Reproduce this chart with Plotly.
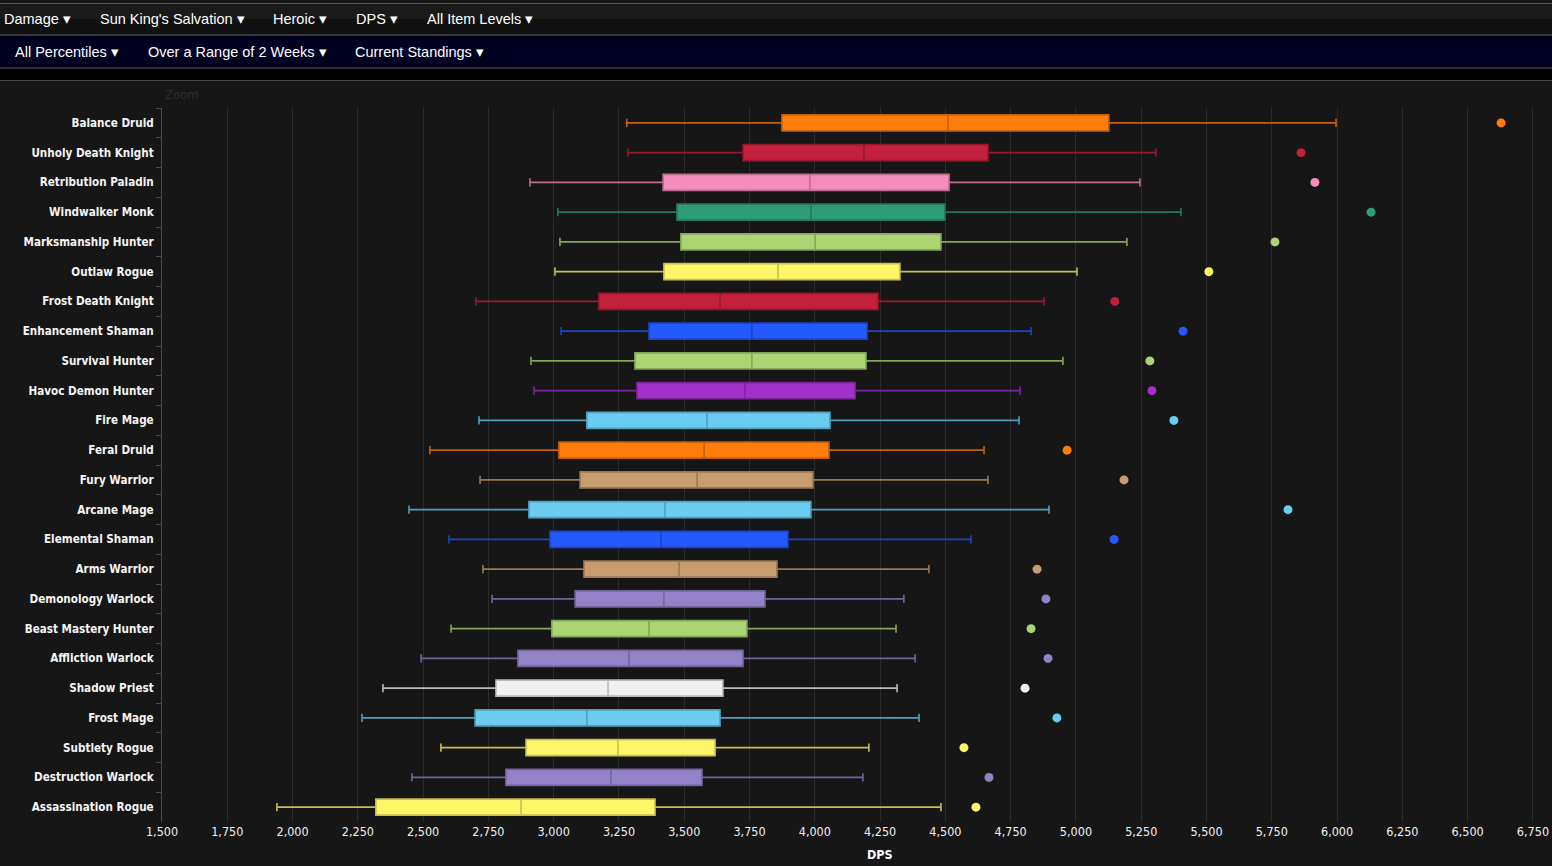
import plotly.graph_objects as go

# Specs, top to bottom
specs = [
    "Balance Druid", "Unholy Death Knight", "Retribution Paladin", "Windwalker Monk",
    "Marksmanship Hunter", "Outlaw Rogue", "Frost Death Knight", "Enhancement Shaman",
    "Survival Hunter", "Havoc Demon Hunter", "Fire Mage", "Feral Druid",
    "Fury Warrior", "Arcane Mage", "Elemental Shaman", "Arms Warrior",
    "Demonology Warlock", "Beast Mastery Hunter", "Affliction Warlock", "Shadow Priest",
    "Frost Mage", "Subtlety Rogue", "Destruction Warlock", "Assassination Rogue",
]

# DPS stats
low = [3280, 3284, 2909, 3016, 3024, 3005, 2702, 3028, 2913, 2925, 2714, 2526,
       2718, 2446, 2599, 2729, 2764, 2607, 2492, 2346, 2266, 2568, 2457, 1940]
q1 = [3874, 3725, 3419, 3472, 3487, 3422, 3173, 3365, 3311, 3319, 3127, 3020,
      3101, 2905, 2986, 3116, 3082, 2993, 2863, 2779, 2699, 2894, 2817, 2319]
median = [4510, 4188, 3981, 3985, 4001, 3859, 3637, 3759, 3759, 3733, 3587, 3576,
          3549, 3426, 3411, 3480, 3422, 3365, 3288, 3208, 3127, 3246, 3219, 2875]
q3 = [5126, 4663, 4514, 4498, 4483, 4326, 4242, 4200, 4196, 4154, 4058, 4054,
      3993, 3985, 3897, 3855, 3809, 3740, 3725, 3648, 3637, 3618, 3568, 3388]
high = [5996, 5306, 5245, 5402, 5195, 5004, 4878, 4828, 4950, 4786, 4782, 4648,
        4663, 4897, 4598, 4437, 4341, 4311, 4384, 4315, 4399, 4207, 4184, 4483]
top = [6628, 5862, 5915, 6130, 5762, 5509, 5149, 5410, 5283, 5291, 5375, 4966,
       5184, 5812, 5146, 4851, 4885, 4828, 4893, 4805, 4927, 4571, 4667, 4617]

colors = [
    "#ff7d0a", "#c41f3b", "#f58cba", "#2e9c78", "#abd473", "#fff569", "#c41f3b", "#2459ff",
    "#abd473", "#a330c9", "#69ccf0", "#ff7d0a", "#c79c6e", "#69ccf0", "#2459ff", "#c79c6e",
    "#9482c9", "#abd473", "#9482c9", "#f0f0f0", "#69ccf0", "#fff569", "#9482c9", "#fff569",
]

row1_menus = ["Damage", "Sun King's Salvation", "Heroic", "DPS", "All Item Levels"]
row1_x = [2, 98, 271, 354, 425]
row2_menus = ["All Percentiles", "Over a Range of 2 Weeks", "Current Standings"]
row2_x = [13, 146, 353]

W, H = 1552, 866
PLOT_L, PLOT_T, PLOT_B = 162, 108, 822
FONT = "DejaVu Sans Condensed"


def darken(hex_color, f):
    h = hex_color.lstrip("#")
    r, g, b = (int(h[i:i + 2], 16) for i in (0, 2, 4))
    return "rgb(%d,%d,%d)" % (r * f, g * f, b * f)


def px(x):
    return (x - PLOT_L) / (W - PLOT_L)


def py(y):
    return (PLOT_B - y) / (PLOT_B - PLOT_T)


fig = go.Figure()

for i, name in enumerate(specs):
    fig.add_trace(go.Box(
        y=[name],
        q1=[q1[i]], median=[median[i]], q3=[q3[i]],
        lowerfence=[low[i]], upperfence=[high[i]],
        orientation="h",
        width=0.54,
        whiskerwidth=0.5,
        fillcolor=colors[i],
        line=dict(color=darken(colors[i], 0.78), width=1.6),
        boxpoints=False,
        hoverinfo="x",
        showlegend=False,
    ))

# best parse per spec
fig.add_trace(go.Scatter(
    x=top, y=specs, mode="markers",
    marker=dict(color=colors, size=9),
    hoverinfo="x", showlegend=False,
))

# page header bars (decoration)
shapes = []
bars = [
    (0, 3, "#161616"),
    (3, 19, "#1a1a1a"),
    (19, 35, "#101010"),
    (35, 68, "#000020"),
    (68, 80, "#000000"),
]
for y0, y1, c in bars:
    shapes.append(dict(type="rect", xref="paper", yref="paper", x0=px(0), x1=px(W),
                       y0=py(y1), y1=py(y0), fillcolor=c, line=dict(width=0), layer="below"))
for yl, c in [(3.5, "#5a5a5a"), (35, "#666666"), (68, "#5a5a5a"), (80.5, "#444444")]:
    shapes.append(dict(type="line", xref="paper", yref="paper", x0=px(0), x1=px(W),
                       y0=py(yl), y1=py(yl), line=dict(color=c, width=1)))

annotations = []
for label, x in zip(row1_menus, row1_x):
    annotations.append(dict(text=label + " \u25be", x=px(x), y=py(19), xref="paper", yref="paper",
                            xanchor="left", yanchor="middle", showarrow=False,
                            font=dict(family="Liberation Sans, Arial", size=14.5, color="#ffffff")))
for label, x in zip(row2_menus, row2_x):
    annotations.append(dict(text=label + " \u25be", x=px(x), y=py(52), xref="paper", yref="paper",
                            xanchor="left", yanchor="middle", showarrow=False,
                            font=dict(family="Liberation Sans, Arial", size=14.5, color="#ffffff")))
annotations.append(dict(text="Zoom", x=px(163), y=py(94), xref="paper", yref="paper",
                        xanchor="left", yanchor="middle", showarrow=False,
                        font=dict(family=FONT, size=13, color="#2e2e2e")))
annotations.append(dict(text="<b>DPS</b>", x=px(880), y=py(854), xref="paper", yref="paper",
                        xanchor="center", yanchor="middle", showarrow=False,
                        font=dict(family=FONT, size=12.5, color="#ffffff")))

fig.update_layout(
    width=W, height=H,
    margin=dict(l=PLOT_L, r=0, t=PLOT_T, b=H - PLOT_B),
    paper_bgcolor="#161616",
    plot_bgcolor="#161616",
    boxmode="overlay",
    showlegend=False,
    shapes=shapes,
    annotations=annotations,
    xaxis=dict(
        range=[1500, 6823], dtick=250, tick0=1500, tickformat=",d",
        showgrid=True, gridcolor="#2c2c2c", gridwidth=1, zeroline=False,
        showline=False, ticks="",
        tickfont=dict(family=FONT, size=12.5, color="#f0f0f0"),
    ),
    yaxis=dict(
        categoryorder="array", categoryarray=specs,
        range=[len(specs) - 0.5, -0.5], autorange=False,
        showgrid=False, zeroline=False,
        showline=True, linecolor="#4a4a4a", linewidth=1,
        ticks="outside", tickson="boundaries", ticklen=5, tickcolor="#4a4a4a",
        ticklabelstandoff=5,
        tickfont=dict(family=FONT, size=11.6, color="#f4f4f4", weight="bold"),
    ),
)

fig.write_html("out.html", config={"displayModeBar": False},
               post_script="document.body.style.margin='0';")
